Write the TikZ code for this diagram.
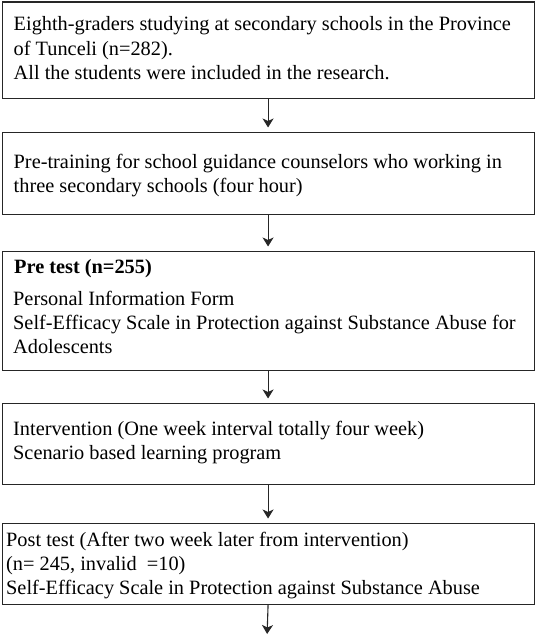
\documentclass[tikz,border=0pt]{standalone}
\usepackage{fontspec}
\setmainfont{Liberation Serif}
\usetikzlibrary{arrows.meta}
\begin{document}
\begin{tikzpicture}[x=1bp,y=-1bp,
  stagebox/.style={draw=black!85, line width=1.1bp, rectangle, inner sep=0, anchor=north west, minimum width=532bp},
  stagetext/.style={anchor=north west, inner sep=0, align=left, font=\fontsize{20.4}{24.5}\selectfont},
  flowarrow/.style={draw=black!85, line width=1.1bp, -{Stealth[length=9bp,width=11bp,inset=2.5bp]}, shorten >=4.5bp}]
\useasboundingbox (0,0) rectangle (535,636);
\node[stagebox, minimum height=96.5bp] (b1) at (1.5,1.5) {};
\node[stagebox, minimum height=82bp] (b2) at (1.5,132) {};
\node[stagebox, minimum height=119bp] (b3) at (1.5,251) {};
\node[stagebox, minimum height=81bp] (b4) at (1.5,403) {};
\node[stagebox, minimum height=81bp] (b5) at (1.5,523) {};
\coordinate (end) at (267,638.5);
\node[stagetext] (t1) at (13.5,16.5) {Eighth-graders studying at secondary schools in the Province\\of Tunceli (n=282).\\All the students were included in the research.};
\node[stagetext] (t2) at (13.5,153.5) {Pre-training for school guidance counselors who working in\\three secondary schools (four hour)};
\node[stagetext, font=\fontsize{20.4}{24.5}\selectfont\bfseries] (t3a) at (14,259.5) {Pre test (n=255)};
\node[stagetext] (t3) at (13,290.5) {Personal Information Form\\Self-Efficacy Scale in Protection against Substance Abuse for\\Adolescents};
\node[stagetext] (t4) at (13,420.5) {Intervention (One week interval totally four week)\\Scenario based learning program};
\node[stagetext] (t5) at (6,531.5) {Post test (After two week later from intervention)\\(n= 245, invalid\ \ =10)\\Self-Efficacy Scale in Protection against Substance Abuse};
\draw[flowarrow] (b1.south) -- (b2.north);
\draw[flowarrow] (b2.south) -- (b3.north);
\draw[flowarrow] (b3.south) -- (b4.north);
\draw[flowarrow] (b4.south) -- (b5.north);
\draw[flowarrow] (b5.south) -- (end);
\end{tikzpicture}
\end{document}
